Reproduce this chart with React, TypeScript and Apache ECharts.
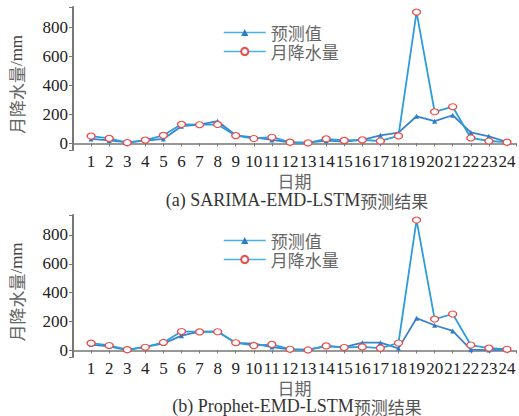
import React, { useEffect, useRef } from 'react';
import * as echarts from 'echarts';

const days = [1, 2, 3, 4, 5, 6, 7, 8, 9, 10, 11, 12, 13, 14, 15, 16, 17, 18, 19, 20, 21, 22, 23, 24];
const rainfall = [50, 34, 5, 22, 55, 131, 128, 129, 53, 33, 42, 8, 3, 31, 20, 24, 16, 51, 903, 217, 252, 37, 16, 8];
const sarimaPred = [30, 20, 7, 18, 30, 118, 128, 152, 55, 41, 23, 7, 5, 18, 11, 23, 55, 73, 186, 152, 193, 75, 48, 9];
const prophetPred = [40, 28, 2, 26, 47, 102, 130, 130, 51, 47, 23, 7, 5, 28, 23, 53, 53, 14, 223, 174, 135, 5, 2, 5];
const seriesNames = ['预测值', '月降水量'];
const captions = ['(a) SARIMA-EMD-LSTM', '(b) Prophet-EMD-LSTM'];
const captionSuffix = '预测结果';
const xName = '日期';

const CJK = 'Noto Sans CJK SC';
const SERIF = 'Liberation Serif';

export default function App() {
  const ref = useRef<HTMLDivElement>(null);
  useEffect(() => {
    const chart = echarts.init(ref.current!, null, { renderer: 'svg' });
    const pair = (vals: number[]) => days.map((d, i) => [d, vals[i]]);
    const preds = [sarimaPred, prophetPred];
    const grids = [
      { left: 70, right: 0, top: 7, height: 143 },
      { left: 71, right: 0, top: 215, height: 142 },
    ];
    const legendTops = [24, 232];
    const captionYs = [200, 406];

    const xAxes = grids.map((_, i) => ({
      type: 'value',
      gridIndex: i,
      min: 0,
      max: 24.5,
      interval: 1,
      name: xName,
      nameLocation: 'middle',
      nameGap: 22,
      nameTextStyle: { fontFamily: CJK, fontSize: 17, color: '#666' },
      axisLine: { lineStyle: { color: '#777', width: 1.5 } },
      axisTick: { length: 3, lineStyle: { color: '#777' } },
      splitLine: { show: false },
      axisLabel: {
        showMinLabel: true,
        showMaxLabel: true,
        margin: 3,
        fontFamily: SERIF,
        fontSize: 17,
        color: '#222',
        formatter: (v: number) => (Number.isInteger(v) && v > 0 ? String(v) : ''),
      },
    }));

    const yAxes = grids.map((_, i) => ({
      type: 'value',
      gridIndex: i,
      min: -46,
      max: 938,
      splitNumber: 5,
      name: '{a|月降水量}{b|/mm}',
      nameLocation: 'middle',
      nameGap: 48,
      nameTextStyle: {
        padding: [0, 12, 0, 0],
        rich: {
          a: { fontFamily: CJK, fontSize: 17, color: '#666' },
          b: { fontFamily: SERIF, fontSize: 17, color: '#444' },
        },
      },
      axisLine: { show: true, lineStyle: { color: '#777', width: 2 } },
      axisTick: { show: true, length: 4, lineStyle: { color: '#777' } },
      splitLine: { show: false },
      axisLabel: {
        showMinLabel: true,
        showMaxLabel: true,
        margin: 5,
        fontFamily: SERIF,
        fontSize: 17,
        color: '#222',
        formatter: (v: number) => (v >= 0 && v % 200 === 0 ? String(v) : ''),
      },
    }));

    const series: any[] = [];
    grids.forEach((_, i) => {
      series.push({
        type: 'line',
        name: seriesNames[0],
        xAxisIndex: i,
        yAxisIndex: i,
        data: pair(preds[i]),
        symbol: 'triangle',
        symbolSize: 5,
        itemStyle: { color: '#2f7cc6' },
        lineStyle: { color: '#3a82cc', width: 1.8 },
        z: 2,
      });
      series.push({
        type: 'line',
        name: seriesNames[1],
        xAxisIndex: i,
        yAxisIndex: i,
        data: pair(rainfall),
        symbol: 'circle',
        symbolSize: [8, 6],
        itemStyle: { color: '#fff', borderColor: '#ec4a44', borderWidth: 1.2 },
        lineStyle: { color: '#2d9ddb', width: 1.8 },
        z: 3,
      });
    });

    const legends = grids.map((_, i) => ({
      orient: 'vertical',
      left: 223,
      top: legendTops[i],
      itemGap: 2,
      itemWidth: 42,
      itemHeight: 9,
      padding: 0,
      lineStyle: { color: '#46b2e8', width: 1.5 },
      textStyle: { fontFamily: CJK, fontSize: 17, color: '#666' },
      data: seriesNames,
    }));

    const graphics = captions.map((c, i) => ({
      type: 'text',
      x: 297,
      y: captionYs[i],
      style: {
        text: `{l|${c}}{c|${captionSuffix}}`,
        align: 'center',
        verticalAlign: 'middle',
        rich: {
          l: { fontFamily: SERIF, fontSize: 18, fill: '#333', color: '#333' },
          c: { fontFamily: CJK, fontSize: 17, fill: '#555', color: '#555' },
        },
      },
    }));

    chart.setOption({
      animation: false,
      backgroundColor: '#fff',
      grid: grids,
      xAxis: xAxes,
      yAxis: yAxes,
      legend: legends,
      series,
      graphic: graphics,
    });
    return () => chart.dispose();
  }, []);
  return <div ref={ref} style={{ position: 'fixed', left: 0, top: 0, width: 519, height: 416 }} />;
}
